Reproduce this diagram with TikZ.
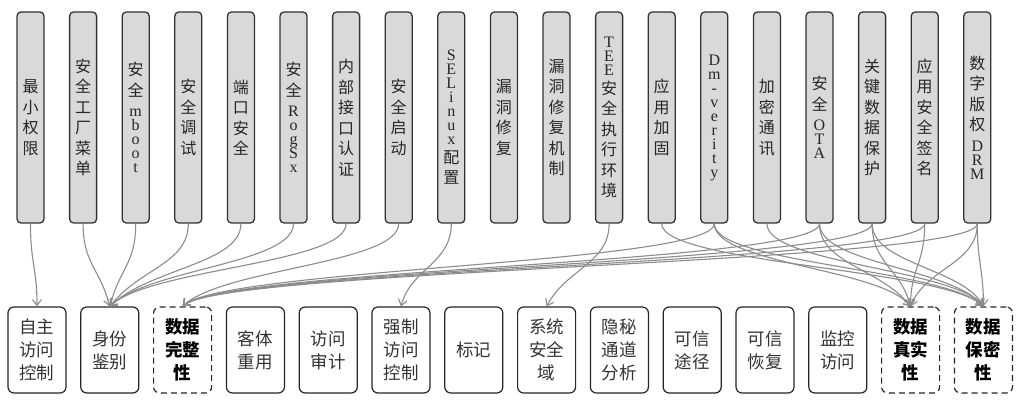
\documentclass[tikz,border=0pt]{standalone}
\usepackage{fontspec}
\setmainfont{Liberation Serif}
\newfontfamily\cjk{Noto Sans CJK SC}
\usetikzlibrary{arrows.meta}
\newcommand\lt[1]{{\rmfamily #1}}
\newcommand\Ls{\\[-6.5pt]}
\newcommand\Lc{\\[-2pt]}
\tikzset{
  tb/.style={draw=black!80, fill=black!15, line width=1.3pt, rounded corners=4pt,
    minimum width=27pt, minimum height=211pt, inner sep=0pt, align=center,
    font=\cjk\fontsize{16}{20.5}\selectfont, text=black!85},
  bb/.style={draw=black!85, fill=white, line width=1.2pt, rounded corners=6pt,
    minimum width=58pt, minimum height=86pt, inner sep=0pt, align=center,
    font=\cjk\fontsize{17.5}{22.8}\selectfont, text=black!80},
  db/.style={bb, dashed, dash pattern=on 6pt off 4pt,
    font=\cjk\bfseries\fontsize{17.5}{22.8}\selectfont, text=black},
  edge/.style={draw=black!45, line width=1.1pt, -{Straight Barb[length=6pt,width=9pt]}}
}
\newcommand\E[3]{\draw[edge] (t#1.south) .. controls +(0,40) and +(#3,-38) .. (b#2.north);}
\begin{document}
\begin{tikzpicture}[x=1pt,y=-1pt]
\useasboundingbox (0,0) rectangle (1024,403);
% top row
\node[tb] (t1) at (30.5,117.5) {最\\小\\权\\限};
\node[tb] (t2) at (83.1,117.5) {安\\全\\工\\厂\\菜\\单};
\node[tb] (t3) at (135.7,117.5) {安\\全\\\lt{m}\Ls\lt{b}\Ls\lt{o}\Ls\lt{o}\Ls\lt{t}};
\node[tb] (t4) at (188.3,117.5) {安\\全\\调\\试};
\node[tb] (t5) at (240.9,117.5) {端\\口\\安\\全};
\node[tb] (t6) at (293.5,117.5) {安\\全\\\lt{R}\Ls\lt{o}\Ls\lt{g}\Ls\lt{S}\Ls\lt{x}};
\node[tb] (t7) at (346.1,117.5) {内\\部\\接\\口\\认\\证};
\node[tb] (t8) at (398.7,117.5) {安\\全\\启\\动};
\node[tb] (t9) at (451.3,117.5) {\lt{S}\Ls\lt{E}\Ls\lt{L}\Ls\lt{i}\Ls\lt{n}\Ls\lt{u}\Ls\lt{x}\Lc 配\\置};
\node[tb] (t10) at (503.9,117.5) {漏\\洞\\修\\复};
\node[tb] (t11) at (556.5,117.5) {漏\\洞\\修\\复\\机\\制};
\node[tb] (t12) at (609.1,117.5) {\lt{T}\Ls\lt{E}\Ls\lt{E}\Lc 安\\全\\执\\行\\环\\境};
\node[tb] (t13) at (661.7,117.5) {应\\用\\加\\固};
\node[tb] (t14) at (714.3,117.5) {\lt{D}\Ls\lt{m}\Ls\lt{-}\Ls\lt{v}\Ls\lt{e}\Ls\lt{r}\Ls\lt{i}\Ls\lt{t}\Ls\lt{y}};
\node[tb] (t15) at (766.9,117.5) {加\\密\\通\\讯};
\node[tb] (t16) at (819.5,117.5) {安\\全\\\lt{O}\Ls\lt{T}\Ls\lt{A}};
\node[tb] (t17) at (872.1,117.5) {关\\键\\数\\据\\保\\护};
\node[tb] (t18) at (924.7,117.5) {应\\用\\安\\全\\签\\名};
\node[tb] (t19) at (977.3,117.5) {数\\字\\版\\权\\\lt{D}\Ls\lt{R}\Ls\lt{M}};
% bottom row
\node[bb] (b1) at (37,350) {自主\\访问\\控制};
\node[bb] (b2) at (109.8,350) {身份\\鉴别};
\node[db] (b3) at (182.6,350) {数据\\完整\\性};
\node[bb] (b4) at (255.4,350) {客体\\重用};
\node[bb] (b5) at (328.2,350) {访问\\审计};
\node[bb] (b6) at (401,350) {强制\\访问\\控制};
\node[bb] (b7) at (473.8,350) {标记};
\node[bb] (b8) at (546.6,350) {系统\\安全\\域};
\node[bb] (b9) at (619.4,350) {隐秘\\通道\\分析};
\node[bb] (b10) at (692.2,350) {可信\\途径};
\node[bb] (b11) at (765,350) {可信\\恢复};
\node[bb] (b12) at (837.8,350) {监控\\访问};
\node[db] (b13) at (910.6,350) {数据\\真实\\性};
\node[db] (b14) at (983.4,350) {数据\\保密\\性};
% connectors
\E{1}{1}{0}
\E{2}{2}{-10}
\E{3}{2}{10}
\E{4}{2}{30}
\E{5}{2}{40}
\E{6}{2}{40}
\E{7}{2}{40}
\E{8}{3}{40}
\E{9}{6}{10}
\E{12}{8}{20}
\E{14}{3}{40}
\E{16}{3}{40}
\E{17}{3}{40}
\E{18}{3}{40}
\E{19}{3}{40}
\E{14}{13}{-30}
\E{16}{13}{-30}
\E{17}{13}{-10}
\E{18}{13}{0}
\E{19}{13}{15}
\E{13}{14}{-40}
\E{14}{14}{-40}
\E{15}{14}{-30}
\E{16}{14}{-30}
\E{17}{14}{-20}
\E{19}{14}{0}
\end{tikzpicture}
\end{document}
